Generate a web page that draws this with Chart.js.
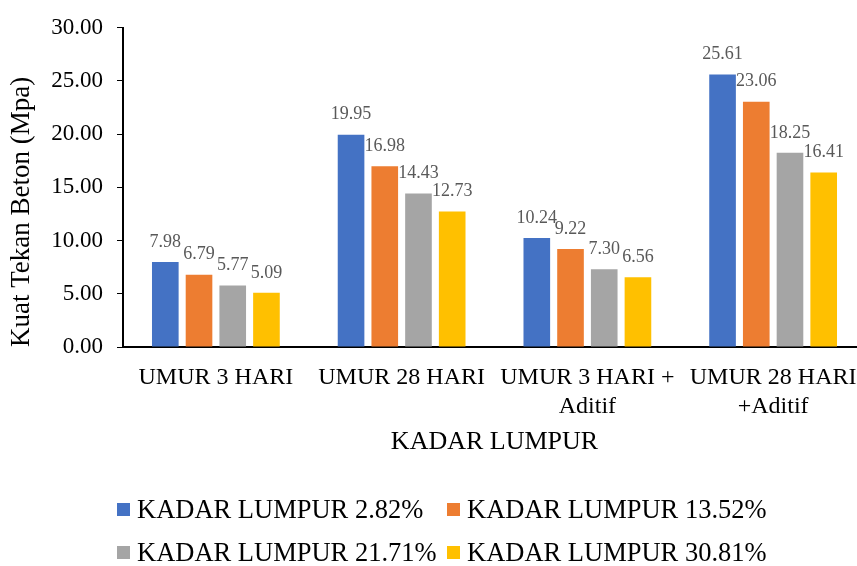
<!DOCTYPE html>
<html>
<head>
<meta charset="utf-8">
<script src="https://cdn.jsdelivr.net/npm/chart.js@4"></script>
<style>
  html, body { margin: 0; padding: 0; background: #fff; overflow: hidden; }
  #wrap { width: 857px; height: 566px; overflow: hidden; }
</style>
</head>
<body>
<div id="wrap"><canvas id="chart" width="866" height="566"></canvas></div>
<script>
const categories = [
  "UMUR 3 HARI",
  "UMUR 28 HARI",
  ["UMUR 3 HARI +", "Aditif"],
  ["UMUR 28 HARI", "+Aditif"]
];
const seriesNames = [
  "KADAR LUMPUR 2.82%",
  "KADAR LUMPUR 13.52%",
  "KADAR LUMPUR 21.71%",
  "KADAR LUMPUR 30.81%"
];
const lumpur282 = [7.98, 19.95, 10.24, 25.61];
const lumpur1352 = [6.79, 16.98, 9.22, 23.06];
const lumpur2171 = [5.77, 14.43, 7.30, 18.25];
const lumpur3081 = [5.09, 12.73, 6.56, 16.41];
const colors = ["#4472C4", "#ED7D31", "#A5A5A5", "#FFC000"];

const serif = "'Liberation Serif', 'Times New Roman', serif";

// value labels above each bar
const barLabels = {
  id: "barLabels",
  afterDatasetsDraw(chart) {
    const ctx = chart.ctx;
    ctx.save();
    ctx.font = "18px " + serif;
    ctx.fillStyle = "#595959";
    ctx.textAlign = "center";
    ctx.textBaseline = "middle";
    chart.data.datasets.forEach((ds, i) => {
      chart.getDatasetMeta(i).data.forEach((bar, j) => {
        ctx.fillText(ds.data[j].toFixed(2), bar.x, bar.y - 20);
      });
    });
    ctx.restore();
  }
};

// two-by-two legend at the bottom
const gridLegend = {
  id: "gridLegend",
  afterDraw(chart) {
    const ctx = chart.ctx;
    const colX = [117, 447];
    const rowY = [510, 553];
    ctx.save();
    ctx.font = "26.5px " + serif;
    ctx.textAlign = "left";
    ctx.textBaseline = "middle";
    chart.data.datasets.forEach((ds, i) => {
      const x = colX[i % 2];
      const y = rowY[Math.floor(i / 2)];
      ctx.fillStyle = ds.backgroundColor;
      ctx.fillRect(x, y - 7, 13, 13);
      ctx.fillStyle = "#000";
      ctx.fillText(ds.label, x + 20, y + 1);
    });
    ctx.restore();
  }
};

const allSeries = [lumpur282, lumpur1352, lumpur2171, lumpur3081];

new Chart(document.getElementById("chart"), {
  type: "bar",
  data: {
    labels: categories,
    datasets: allSeries.map((d, i) => ({
      label: seriesNames[i],
      data: d,
      backgroundColor: colors[i],
      categoryPercentage: 0.726,
      barPercentage: 0.79
    }))
  },
  options: {
    responsive: false,
    animation: false,
    layout: { padding: { top: 21, right: 0, left: 0, bottom: 0 } },
    plugins: {
      legend: { display: false },
      tooltip: { enabled: false }
    },
    scales: {
      x: {
        afterFit: s => { s.height = 219; },
        grid: { display: false, drawTicks: true, tickLength: 16 },
        border: { display: true, color: "#000", width: 2 },
        ticks: {
          color: "#000",
          font: { family: serif, size: 24, lineHeight: 1.22 },
          maxRotation: 0,
          autoSkip: false,
          padding: 0
        },
        title: {
          display: true,
          text: "KADAR LUMPUR",
          color: "#000",
          font: { family: serif, size: 26 },
          padding: { top: 0, bottom: 108 }
        }
      },
      y: {
        min: 0,
        max: 30,
        afterFit: s => { s.width = 123; },
        ticks: {
          stepSize: 5,
          color: "#000",
          font: { family: serif, size: 23 },
          padding: 14,
          callback: v => v.toFixed(2)
        },
        grid: {
          drawOnChartArea: false,
          drawTicks: true,
          tickLength: 6,
          color: "#000"
        },
        border: { display: true, color: "#000", width: 2 },
        title: {
          display: true,
          align: "start",
          text: "Kuat Tekan Beton (Mpa)",
          color: "#000",
          font: { family: serif, size: 27 },
          padding: { top: 6, bottom: 0 }
        }
      }
    }
  },
  plugins: [barLabels, gridLegend]
});
</script>
</body>
</html>
